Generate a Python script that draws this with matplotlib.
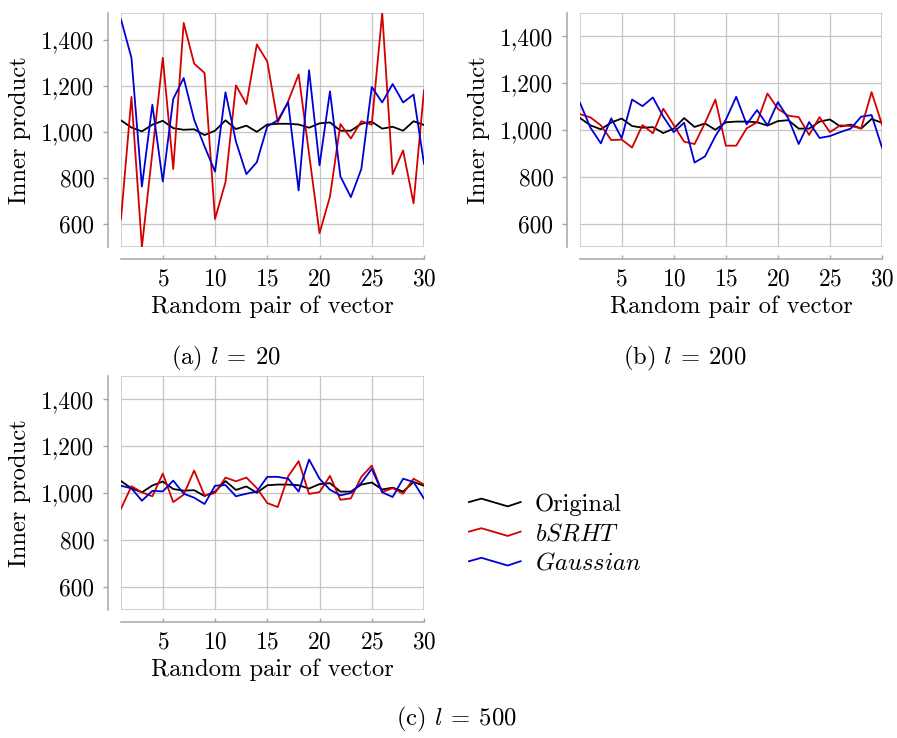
import numpy as np
import matplotlib.pyplot as plt
from matplotlib.lines import Line2D
from matplotlib.patches import Rectangle
from matplotlib.legend_handler import HandlerBase
from matplotlib.ticker import FuncFormatter

plt.rcParams['font.family'] = 'cmr10'
plt.rcParams['mathtext.fontset'] = 'cm'
plt.rcParams['axes.formatter.use_mathtext'] = True

pairs = np.arange(1, 31)

original = [1051, 1020, 1003, 1032, 1049, 1017, 1010, 1012, 987, 1006,
            1051, 1013, 1028, 1001, 1033, 1036, 1036, 1033, 1019, 1038,
            1042, 1006, 1006, 1036, 1045, 1015, 1023, 1006, 1047, 1031]

# l = 20
bsrht_20 = [622, 1153, 500, 910, 1323, 839, 1475, 1298, 1257, 622,
            782, 1203, 1122, 1381, 1307, 1042, 1134, 1251, 905, 560,
            719, 1035, 972, 1047, 1032, 1518, 817, 920, 690, 1182]
gauss_20 = [1490, 1323, 763, 1119, 785, 1144, 1235, 1054, 937, 828,
            1173, 959, 817, 869, 1025, 1051, 1129, 746, 1269, 855,
            1177, 807, 717, 839, 1196, 1129, 1209, 1129, 1163, 862]

# l = 200
bsrht_200 = [1068, 1054, 1020, 957, 959, 925, 1021, 986, 1091, 1021,
             950, 940, 1030, 1130, 933, 933, 1007, 1033, 1156, 1091,
             1061, 1055, 979, 1055, 991, 1020, 1017, 1007, 1162, 1023]
gauss_200 = [1116, 1010, 943, 1050, 965, 1130, 1102, 1139, 1057, 991,
             1031, 861, 887, 974, 1043, 1142, 1024, 1085, 1020, 1119,
             1050, 940, 1034, 966, 974, 991, 1006, 1057, 1064, 925]

# l = 500
bsrht_500 = [933, 1029, 1003, 986, 1083, 961, 993, 1096, 989, 1000,
             1066, 1050, 1066, 1021, 957, 940, 1071, 1136, 996, 1004,
             1073, 971, 977, 1069, 1117, 1004, 1021, 997, 1061, 1036]
gauss_500 = [1031, 1020, 967, 1009, 1007, 1053, 997, 980, 953, 1031,
             1034, 986, 997, 1006, 1069, 1069, 1061, 1006, 1143, 1061,
             1014, 990, 1000, 1043, 1103, 1003, 983, 1061, 1047, 976]

yticks = [600, 800, 1000, 1200, 1400]
xticks = [5, 10, 15, 20, 25, 30]

RED = '#d40000'
BLUE = '#0000d4'
GRID = '#c4c4c4'
SPINE = '#a6a6a6'
FS_TICK = 16.8
FS = 17.7

W, H = 897, 738
fig = plt.figure(figsize=(W / 100, H / 100), dpi=100)


def px_axes(x0, y0, x1, y1):
    return fig.add_axes([x0 / W, 1 - y1 / H, (x1 - x0) / W, (y1 - y0) / H])


def setup(ax, bsrht, gauss, ylim):
    ax.plot(pairs, original, color='black', lw=1.3)
    ax.plot(pairs, bsrht, color=RED, lw=1.3)
    ax.plot(pairs, gauss, color=BLUE, lw=1.3)
    ax.set_xlim(1, 30)
    ax.set_ylim(*ylim)
    ax.set_xticks(xticks)
    ax.set_yticks(yticks)
    ax.yaxis.set_major_formatter(FuncFormatter(lambda v, p: f'{v:,.0f}'))
    ax.grid(True, color=GRID, lw=0.9)
    ax.set_axisbelow(True)
    for s in ('top', 'right'):
        ax.spines[s].set_visible(False)
    ax.spines['left'].set_position(('outward', 9.5))
    ax.spines['bottom'].set_position(('outward', 8.5))
    for s in ('left', 'bottom'):
        ax.spines[s].set_color(SPINE)
        ax.spines[s].set_linewidth(1.1)
    ax.add_patch(Rectangle((0, 0), 1, 1, transform=ax.transAxes, fill=False,
                           edgecolor=GRID, lw=1.1, zorder=0.5))
    ax.tick_params(axis='y', direction='out', length=3.6, width=1.0,
                   color=SPINE, pad=6, labelsize=FS_TICK)
    ax.tick_params(axis='x', direction='in', length=3.0, width=1.0,
                   color=SPINE, pad=7, labelsize=FS_TICK)
    ax.set_xlabel('Random pair of vector', fontsize=FS, va='center')
    ax.set_ylabel('Inner product', fontsize=FS, va='center')
    ax.xaxis.set_label_coords(0.5, -0.256)
    ax.yaxis.set_label_coords(-0.333, 0.5)


ax_a = px_axes(121, 13, 424, 247)
setup(ax_a, bsrht_20, gauss_20, (500, 1518))
ax_b = px_axes(580, 13, 882, 247)
setup(ax_b, bsrht_200, gauss_200, (500, 1500))
ax_c = px_axes(121, 376, 424, 610)
setup(ax_c, bsrht_500, gauss_500, (500, 1500))

captions = [(r'(a) $l \:=\: 20$', 226, 358), (r'(b) $l \:=\: 200$', 685, 358),
            (r'(c) $l \:=\: 500$', 456, 719)]
for txt, x, y in captions:
    fig.text(x / W, 1 - y / H, txt, ha='center', va='center', fontsize=FS)


class ZigzagHandler(HandlerBase):
    def create_artists(self, legend, orig_handle, xdescent, ydescent,
                       width, height, fontsize, trans):
        xs = np.array([0.0, 0.24, 0.75, 1.0]) * width - xdescent
        ym = height / 2 - ydescent
        ys = ym + np.array([0.0, 0.2, -0.25, 0.0]) * height
        line = Line2D(xs, ys, color=orig_handle.get_color(),
                      lw=orig_handle.get_linewidth(), transform=trans)
        return [line]


handles = [Line2D([], [], color='black', lw=1.3),
           Line2D([], [], color=RED, lw=1.3),
           Line2D([], [], color=BLUE, lw=1.3)]
labels = ['Original', '$bSRHT$', '$Gaussian$']
fig.legend(handles, labels, loc='center left',
           bbox_to_anchor=(469 / W, 1 - 534 / H), frameon=False,
           borderpad=0, borderaxespad=0,
           fontsize=FS, handler_map={Line2D: ZigzagHandler()},
           handlelength=2.1, handletextpad=0.57, labelspacing=0.3)

fig.savefig('out.png', dpi=100)
